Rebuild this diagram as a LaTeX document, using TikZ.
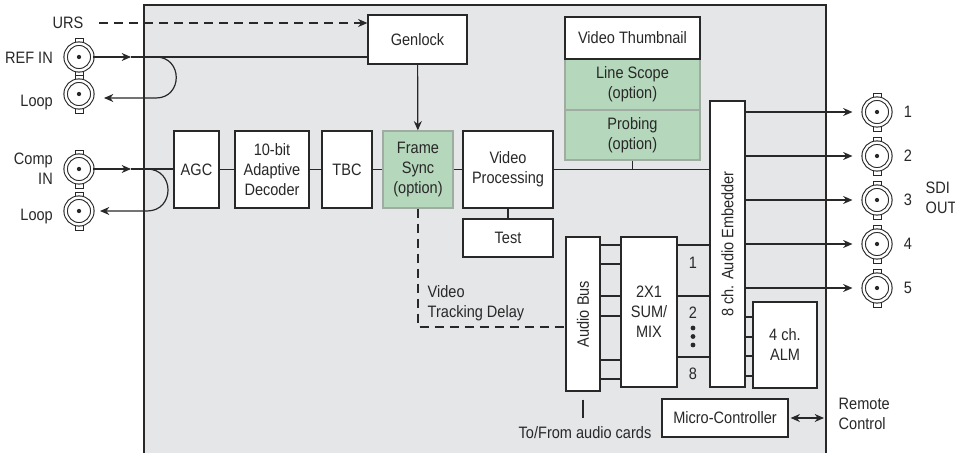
\documentclass[tikz,border=0pt]{standalone}
\usepackage{fontspec}
\setmainfont[FakeStretch=0.88]{Liberation Sans}
\usetikzlibrary{arrows.meta,calc}
\definecolor{panel}{RGB}{229,230,232}
\definecolor{optgreen}{RGB}{181,215,187}
\definecolor{optedge}{RGB}{160,172,162}
\definecolor{ink}{RGB}{40,40,40}

% BNC connector: name, position
\newcommand{\bnc}[2]{%
  \draw[ink,fill=white,line width=0.6pt] ($(#2)+(-4,-19)$) rectangle ($(#2)+(4,-13)$);
  \draw[ink,fill=white,line width=0.6pt] ($(#2)+(-4,13)$) rectangle ($(#2)+(4,19)$);
  \node[bncring] (#1) at (#2) {};
  \fill[ink] (#1) circle (1.6pt);}

\begin{document}
\begin{tikzpicture}[x=0.75pt,y=0.75pt,yscale=-1,xscale=1,
  >={Stealth[length=7pt,width=6pt]},
  every node/.style={font=\fontsize{12.4}{15}\selectfont, text=ink},
  blk/.style={draw=ink, fill=white, line width=0.9pt, inner sep=0pt, align=center},
  optblk/.style={blk, draw=optedge, fill=optgreen},
  bncring/.style={circle, draw=ink, fill=white, line width=0.8pt, double=white, double distance=1.8pt, minimum size=20pt, inner sep=0pt},
  wire/.style={draw=ink, line width=0.9pt},
  delay/.style={wire, dash pattern=on 6.75pt off 4.5pt}]
\useasboundingbox[fill=white] (0,0) rectangle (955,453);

%Shape: card
\fill[panel] (144,5) rectangle (826,453);
\draw[ink,line width=0.9pt] (144,453) -- (144,5) -- (826,5) -- (826,453);
\coordinate (cardr) at (826,5);

%Blocks
\node[blk, minimum width=74.25pt, minimum height=36.75pt] (genlock) at (417.5,39.5) {Genlock};
\node[optblk, minimum width=101.25pt, minimum height=38.25pt] (scope) at (632.5,84.5) {Line Scope\\(option)};
\node[optblk, minimum width=101.25pt, minimum height=37.5pt] (probing) at (632.5,135) {Probing\\(option)};
\node[blk, minimum width=101.25pt, minimum height=31.5pt] (thumb) at (632.5,38) {Video Thumbnail};
\node[blk, minimum width=33.75pt, minimum height=57.75pt] (agc) at (196.5,169.5) {AGC};
\node[blk, minimum width=55.5pt, minimum height=57.75pt] (decoder) at (272,169.5) {10-bit\\Adaptive\\Decoder};
\node[blk, minimum width=37.5pt, minimum height=57.75pt] (tbc) at (347,169.5) {TBC};
\node[optblk, minimum width=52.5pt, minimum height=57.75pt] (fsync) at (418,169.5) {Frame\\Sync\\(option)};
\node[blk, minimum width=67.5pt, minimum height=57.75pt] (vproc) at (508,169.5) {Video\\Processing};
\node[blk, minimum width=67.5pt, minimum height=28.5pt] (test) at (508,238) {Test};
\node[blk, minimum width=26.25pt, minimum height=214.5pt] (embed) at (727.5,244) {};
\node[rotate=90] (embedtxt) at (embed) {8 ch. Audio Embedder};
\node[blk, minimum width=25.5pt, minimum height=115.5pt] (abus) at (583,314) {};
\node[rotate=90] (abustxt) at (abus) {Audio Bus};
\node[blk, minimum width=42pt, minimum height=112.5pt] (summix) at (649,312) {2X1\\SUM/\\MIX};
\node[blk, minimum width=48pt, minimum height=64.5pt] (alm) at (785,345) {4 ch.\\ALM};
\node[blk, minimum width=94.5pt, minimum height=28.5pt] (micro) at (725,418) {Micro-Controller};

%Connectors
\bnc{ref}{79,57}
\bnc{refloop}{79,94}
\bnc{comp}{79,169}
\bnc{comploop}{79,211}
\foreach \n/\y in {1/112,2/156,3/200,4/244,5/288}{
  \bnc{out\n}{877,\y}
  \node (num\n) at (908,\y) {\n};
  \draw[wire,->] (embed.east |- out\n) -- ([xshift=-8pt]out\n.west);
}

% Text Node
\node[anchor=east] (urs) at (88,23) {URS};
\node[anchor=east] (reflbl) at (57.5,58) {REF IN};
\node[anchor=east] (loop1) at (57.5,103) {Loop};
\node[anchor=east,align=right] (complbl) at (57.5,168.5) {Comp\\IN};
\node[anchor=east] (loop2) at (57.5,217) {Loop};
\node[anchor=west,align=left] (sdi) at (921,198) {SDI\\OUT};
\node[anchor=west,align=left] (vtd) at (423,303) {Video\\Tracking Delay};
\node[anchor=west,align=left] (remote) at (834,414) {Remote\\Control};
\node (tofrom) at (585,433) {To/From audio cards};
\node (ch1) at (693,263) {1};
\node (ch2) at (693,313) {2};
\node (ch8) at (693,374) {8};
\foreach \y in {328,336.5,345} \fill[ink] (693,\y) circle (1.8pt);

%Reference input and loop
\coordinate (refin) at (131,57);
\coordinate (refsplit) at (156,57);
\coordinate (refbend) at (156,98);
\coordinate (refret) at (104,98);
\draw[wire,->] (ref.east) -- (refin);
\draw[wire] (refin) -- (refin -| genlock.west);
\draw[wire,->] (refsplit) .. controls +(27,0) and +(27,0) .. (refbend) -- (refret);
\draw[delay,->] ([xshift=8.5pt]urs.east) -- (urs.east -| genlock.west);

%Composite input and loop
\coordinate (compin) at (131,169);
\coordinate (compsplit) at (147,169);
\coordinate (compbend) at (147,211);
\coordinate (compret) at (100,211);
\draw[wire,->] (comp.east) -- (compin);
\draw[wire] (compin) -- (compin -| agc.west);
\draw[wire,->] (compsplit) .. controls +(28,0) and +(28,0) .. (compbend) -- (compret);

%Video path
\foreach \a/\b in {agc/decoder,decoder/tbc,tbc/fsync,fsync/vproc}
  \draw[wire] (\a) -- (\b);
\draw[wire,->] (genlock) -- (fsync);
\draw[wire] (vproc) -- (test);
\draw[wire] (vproc.east) -- (vproc.east -| embed.west);
\draw[wire] (probing.south) -- (probing.south |- vproc.east);
\coordinate (delaycorner) at (418,327);
\draw[delay] (fsync.south) -- (delaycorner) -- (delaycorner -| abus.west);

%Audio path
\foreach \y in {245,264,296,316,360,379}{
  \coordinate (tap) at (0,\y);
  \draw[wire] (abus.east |- tap) -- (summix.west |- tap);
}
\foreach \y in {245,296,357}{
  \coordinate (tap) at (0,\y);
  \draw[wire] (summix.east |- tap) -- (embed.west |- tap);
}
\foreach \y in {317,337,356,376}{
  \coordinate (tap) at (0,\y);
  \draw[wire] (embed.east |- tap) -- (alm.west |- tap);
}
\draw[wire] ([yshift=6pt]abus.south) -- ([yshift=19.5pt]abus.south);
\draw[wire,<->,shorten <=1.5pt,shorten >=1.5pt] (micro.east) -- (micro.east -| cardr);

\end{tikzpicture}
\end{document}
